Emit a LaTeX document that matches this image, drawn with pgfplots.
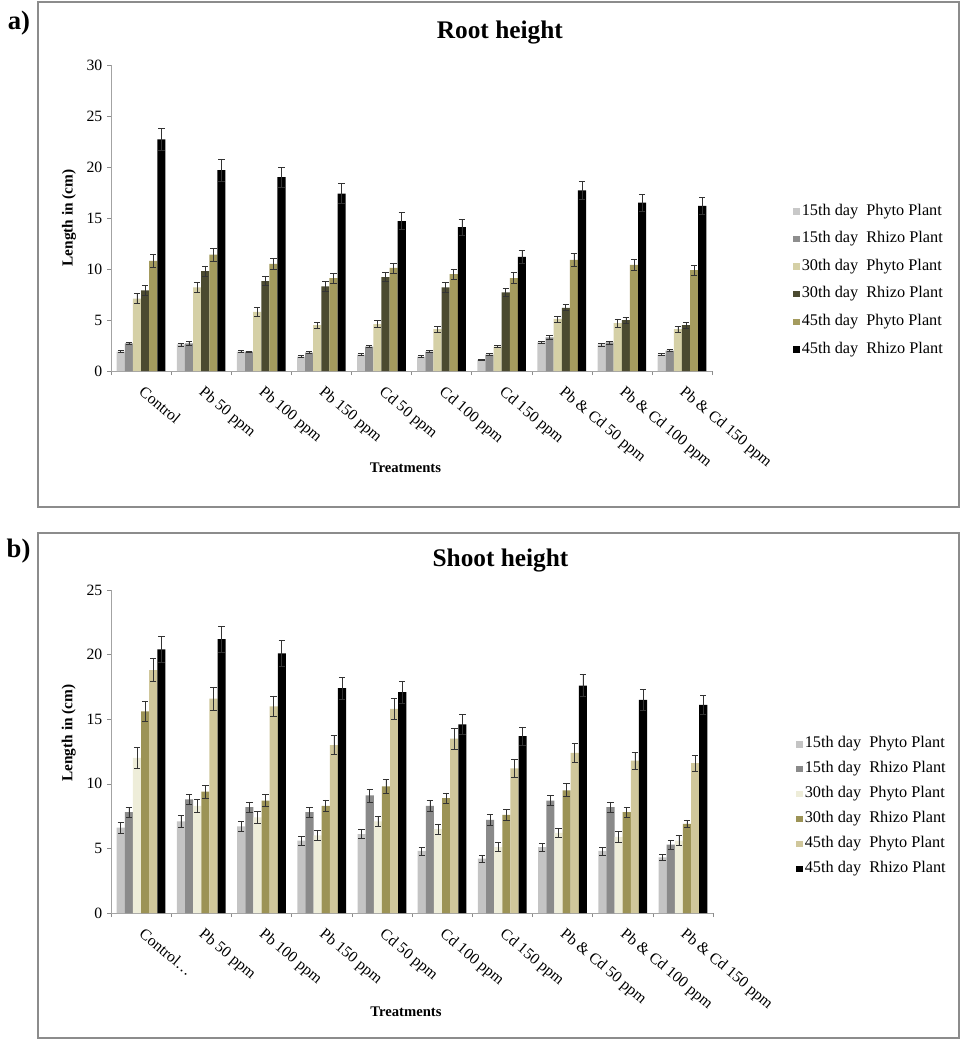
\documentclass[border=0pt]{standalone}
\usepackage{fontspec}
\setmainfont{Liberation Serif}
\usepackage{pgfplots}
\usepackage{pgfplotstable}
\pgfplotsset{compat=1.18}

% root chart colours
\definecolor{rA}{HTML}{C8C8C8}
\definecolor{rB}{HTML}{8E8E8E}
\definecolor{rC}{HTML}{D5D0A6}
\definecolor{rD}{HTML}{4B4A30}
\definecolor{rE}{HTML}{A49B5E}
\definecolor{rF}{HTML}{000000}
% shoot chart colours
\definecolor{sA}{HTML}{C4C4C4}
\definecolor{sB}{HTML}{8A8A8A}
\definecolor{sC}{HTML}{EEEDD9}
\definecolor{sD}{HTML}{9C9356}
\definecolor{sE}{HTML}{D0C79B}
\definecolor{sF}{HTML}{000000}
\definecolor{frame}{HTML}{8C8C8C}

\pgfplotstableread{
x v1 e1 v2 e2 v3 e3 v4 e4 v5 e5 v6 e6
0 1.9 0.10 2.7 0.10 7.1 0.50 7.9 0.45 10.8 0.65 22.7 1.10
1 2.6 0.15 2.7 0.20 8.2 0.50 9.8 0.50 11.4 0.60 19.7 1.10
2 1.9 0.10 1.9 0.05 5.8 0.40 8.8 0.45 10.5 0.50 19.0 1.00
3 1.4 0.10 1.8 0.10 4.5 0.30 8.3 0.45 9.1 0.50 17.4 0.95
4 1.6 0.10 2.4 0.10 4.6 0.35 9.2 0.45 10.1 0.50 14.7 0.85
5 1.4 0.10 1.9 0.10 4.1 0.30 8.2 0.45 9.5 0.50 14.1 0.80
6 1.1 0.05 1.6 0.10 2.4 0.10 7.7 0.40 9.1 0.55 11.2 0.65
7 2.8 0.10 3.3 0.15 5.1 0.30 6.2 0.30 10.9 0.60 17.7 0.90
8 2.6 0.15 2.8 0.15 4.7 0.40 5.0 0.30 10.4 0.55 16.5 0.80
9 1.6 0.10 2.0 0.10 4.1 0.30 4.5 0.30 9.9 0.50 16.2 0.80
}\roottable

\pgfplotstableread{
x v1 e1 v2 e2 v3 e3 v4 e4 v5 e5 v6 e6
0 6.6 0.40 7.8 0.40 12.0 0.80 15.6 0.80 18.8 0.90 20.4 1.00
1 7.1 0.45 8.8 0.40 8.3 0.50 9.4 0.50 16.6 0.90 21.2 1.00
2 6.7 0.40 8.2 0.40 7.4 0.45 8.7 0.45 16.0 0.80 20.1 1.00
3 5.6 0.35 7.8 0.40 6.0 0.40 8.3 0.45 13.0 0.75 17.4 0.85
4 6.1 0.35 9.1 0.50 7.1 0.40 9.8 0.55 15.8 0.80 17.1 0.85
5 4.8 0.30 8.3 0.45 6.5 0.40 8.9 0.40 13.5 0.80 14.6 0.80
6 4.2 0.30 7.2 0.40 5.1 0.35 7.6 0.40 11.2 0.70 13.7 0.70
7 5.1 0.30 8.7 0.40 6.2 0.35 9.5 0.50 12.4 0.70 17.6 0.85
8 4.8 0.30 8.2 0.40 5.9 0.40 7.8 0.40 11.8 0.65 16.5 0.80
9 4.3 0.25 5.3 0.35 5.6 0.40 6.9 0.30 11.6 0.60 16.1 0.75
}\shoottable

\pgfplotsset{
  panel/.style={
    scale only axis,
    ybar=0pt, bar width=0.135,
    xmin=-0.5, xmax=9.5, ymin=0,
    axis x line*=bottom, axis y line*=left,
    axis line style={frame!80, -},
    tick align=outside, major tick length=3pt,
    tick style={frame},
    xtick={-0.5,0.5,...,9.5}, xticklabels={},
    extra x ticks={0,1,...,9},
    extra x tick style={tick style={draw=none},
      xticklabel style={yshift=-6pt, xshift=3pt, rotate=-40, anchor=north west, inner sep=1pt,
        font=\fontsize{11.8}{13}\selectfont}},
    /pgf/number format/assume math mode=true,
    yticklabel style={font=\fontsize{11.8}{13}\selectfont},
    ylabel={Length in (cm)},
    ylabel style={font=\fontsize{11.5}{13}\selectfont\bfseries},
    xlabel={Treatments},
    xlabel style={font=\fontsize{11}{13}\selectfont\bfseries, anchor=center},
    title style={font=\fontsize{19}{22}\selectfont\bfseries, anchor=center},
    legend cell align=left,
    legend image code/.code={\fill[##1] (0pt,-2.4pt) rectangle (4.8pt,2.4pt);},
    error bars/error bar style={black!80, line width=0.5pt},
    error bars/error mark options={rotate=90, black!80, mark size=2.4pt, line width=0.5pt},
  },
}

\begin{document}
\begin{tikzpicture}
\useasboundingbox (0,0) rectangle (726.75pt,-780.75pt);
\draw[frame, line width=1.1pt] (28.5pt,-1.5pt) rectangle (719.25pt,-380.25pt);
\draw[frame, line width=1.1pt] (28.5pt,-399.75pt) rectangle (719.25pt,-778.5pt);
\node[font=\fontsize{20}{22}\selectfont\bfseries] at (14.25pt,-17pt) {a)};
\node[font=\fontsize{20}{22}\selectfont\bfseries] at (13.9pt,-413.5pt) {b)};

\begin{axis}[panel,
  at={(83.25pt,-278.25pt)}, anchor=south west,
  width=450.75pt, height=229.5pt,
  ymax=30, ytick={0,5,...,30},
  extra x tick labels={Control, Pb 50 ppm, Pb 100 ppm, Pb 150 ppm, Cd 50 ppm,
    Cd 100 ppm, Cd 150 ppm, Pb \& Cd 50 ppm, Pb \& Cd 100 ppm, Pb \& Cd 150 ppm},
  title={Root height},
  title style={at={(axis description cs:0.647,1.081)}},
  ylabel style={at={(axis description cs:-0.07,0.5)}, anchor=center},
  xlabel style={at={(axis description cs:0.49,-0.317)}},
  legend style={at={(axis description cs:1.135,0.552)}, anchor=north west,
    draw=none, fill=none, row sep=7.2pt, inner sep=0pt,
    nodes={inner sep=1.5pt, text height=8pt, text depth=2.5pt},
    font=\fontsize{12.2}{14}\selectfont},
]
\addplot[fill=rA, draw=none, error bars/.cd, y dir=both, y explicit] table[x=x, y=v1, y error=e1]{\roottable};
\addplot[fill=rB, draw=none, error bars/.cd, y dir=both, y explicit] table[x=x, y=v2, y error=e2]{\roottable};
\addplot[fill=rC, draw=none, error bars/.cd, y dir=both, y explicit] table[x=x, y=v3, y error=e3]{\roottable};
\addplot[fill=rD, draw=none, error bars/.cd, y dir=both, y explicit] table[x=x, y=v4, y error=e4]{\roottable};
\addplot[fill=rE, draw=none, error bars/.cd, y dir=both, y explicit] table[x=x, y=v5, y error=e5]{\roottable};
\addplot[fill=rF, draw=none, error bars/.cd, y dir=both, y explicit] table[x=x, y=v6, y error=e6]{\roottable};
\legend{15th day~~Phyto Plant, 15th day~~Rhizo Plant, 30th day~~Phyto Plant,
  30th day~~Rhizo Plant, 45th day~~Phyto Plant, 45th day~~Rhizo Plant}
\end{axis}

\begin{axis}[panel,
  at={(83.25pt,-684.75pt)}, anchor=south west,
  width=451.5pt, height=242.25pt,
  ymax=25, ytick={0,5,...,25},
  extra x tick labels={Control…, Pb 50 ppm, Pb 100 ppm, Pb 150 ppm, Cd 50 ppm,
    Cd 100 ppm, Cd 150 ppm, Pb \& Cd 50 ppm, Pb \& Cd 100 ppm, Pb \& Cd 150 ppm},
  title={Shoot height},
  title style={at={(axis description cs:0.647,1.068)}},
  ylabel style={at={(axis description cs:-0.07,0.557)}, anchor=center},
  xlabel style={at={(axis description cs:0.49,-0.306)}},
  legend style={at={(axis description cs:1.138,0.551)}, anchor=north west,
    draw=none, fill=none, row sep=5.2pt, inner sep=0pt,
    nodes={inner sep=1.5pt, text height=8pt, text depth=2.5pt},
    font=\fontsize{12.2}{14}\selectfont},
]
\addplot[fill=sA, draw=none, error bars/.cd, y dir=both, y explicit] table[x=x, y=v1, y error=e1]{\shoottable};
\addplot[fill=sB, draw=none, error bars/.cd, y dir=both, y explicit] table[x=x, y=v2, y error=e2]{\shoottable};
\addplot[fill=sC, draw=none, error bars/.cd, y dir=both, y explicit] table[x=x, y=v3, y error=e3]{\shoottable};
\addplot[fill=sD, draw=none, error bars/.cd, y dir=both, y explicit] table[x=x, y=v4, y error=e4]{\shoottable};
\addplot[fill=sE, draw=none, error bars/.cd, y dir=both, y explicit] table[x=x, y=v5, y error=e5]{\shoottable};
\addplot[fill=sF, draw=none, error bars/.cd, y dir=both, y explicit] table[x=x, y=v6, y error=e6]{\shoottable};
\legend{15th day~~Phyto Plant, 15th day~~Rhizo Plant, 30th day~~Phyto Plant,
  30th day~~Rhizo Plant, 45th day~~Phyto Plant, 45th day~~Rhizo Plant}
\end{axis}
\end{tikzpicture}
\end{document}
